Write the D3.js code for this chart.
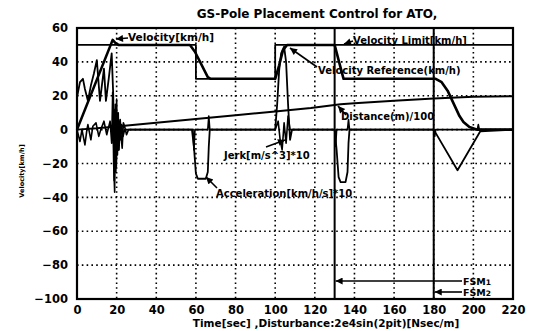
<!DOCTYPE html>
<html>
<head>
<meta charset="utf-8">
<script src="https://cdn.jsdelivr.net/npm/d3@7"></script>
<style>
body{margin:0;background:#fff;}
text{font-family:"DejaVu Sans",sans-serif;font-weight:bold;fill:#000;}
</style>
</head>
<body>
<script>
// DATA
var xTicks = [0,20,40,60,80,100,120,140,160,180,200,220];
var yTicks = [-100,-80,-60,-40,-20,0,20,40,60];

var velocity = [[0,0],[18,53],[19.5,51],[21,50],[57,50],[59.5,46],[66,31],[67.5,30],[100,30],[102,38],[104,47],[106,50],
    [130,50],[132,41],[134.5,30],[181,30],[184,28],[187,23],[189,18],[191,13],[193,8],[195,4.5],[198,1.5],[202,0],[220,0]];

var velocityLimit = [[0,50],[60,50],[60,30],[100,30],[100,50],[220,50]];

var distance = [[0,0],[10,0.8],[20,1.9],[40,4.1],[60,6.3],[80,8.5],[100,10.7],[118,12.7],[133,15],[140,15.6],
    [160,17],[180,18.4],[200,19.4],[220,19.7]];

var acceleration = [[0,19],[1.5,28],[3,30],[4,24],[5.5,17],[7,26],[8.5,33],[10,41],[11.6,17],[13.6,36],[14.6,17],[16,30],
    [17.5,45],[18.3,20],[18.8,-30],[19.3,12],[19.8,-22],[20.3,8],[20.8,-12],[21.3,5],[21.8,-6],[22.5,3],[23.2,-4],[24,0],
    [58,0],[59,-10],[60,-26],[61,-29],[65,-29],[66,-25],[66.5,-10],[67,0],
    [100,0],[101,15],[102,35],[103,45],[104.5,49],[105.5,40],[106.5,15],[107.5,-6],[108.5,0],
    [130,0],[131,-12],[132,-28],[133,-31],[135.5,-31],[136.5,-25],[137,-8],[137.5,0],
    [180,0],[192,-24],[203.5,-1],[220,0]];

var jerk = [[0,0],[1.5,-7],[2.5,0],[4,-9],[5,0],[5.5,3],[7,-6],[8,2],[9.6,4],[11,-4],[12,0],[13.6,5],[15,-3],[16.7,5],
    [17.5,-8],[18,22],[18.5,-20],[19,-37],[19.3,15],[19.6,-25],[20,18],[20.4,-15],[20.8,10],[21.2,-12],[21.8,6],[22.4,-6],
    [22.8,-11],[23.4,4],[24,2],[25,-3],[26,0],
    [58.5,0],[59,-12],[59.5,0],[66,0],[66.5,8],[67,0],
    [100,0],[101.5,5],[102.5,-6],[103.5,-12],[104.5,4],[105.5,-8],[106.5,8],[107.5,0],
    [130,0],[130.5,-10],[131,0],[136.5,0],[137,6],[137.5,0],
    [180,0],[180.5,-4],[181,0],[202,0],[202.5,3],[203,0],[220,0]];

var fsmTimes = [130,180];
var fsmNames = ["FSM","FSM"];
var fsmIndex = ["1","2"];

// LAYOUT
var width = 535, height = 331;
var plotLeft = 77, plotRight = 513, plotTop = 28, plotBottom = 299;

var svg = d3.select("body").append("svg")
    .attr("width", width).attr("height", height);

var x = d3.scaleLinear().domain([0,220]).range([plotLeft,plotRight]);
var y = d3.scaleLinear().domain([-100,60]).range([plotBottom,plotTop]);

// ARROW HEAD
svg.append("defs").append("marker")
    .attr("id","arrow")
    .attr("viewBox",[0,0,10,10])
    .attr("refX",10).attr("refY",5)
    .attr("markerWidth",9).attr("markerHeight",7)
    .attr("markerUnits","userSpaceOnUse")
    .attr("orient","auto")
  .append("path")
    .attr("d",d3.line()([[0,0],[10,5],[0,10]]))
    .attr("fill","#000");

// GRID (dotted)
svg.append("g").selectAll("line").data(xTicks.slice(1,-1)).enter().append("line")
    .attr("x1",d=>x(d)).attr("x2",d=>x(d)).attr("y1",plotTop).attr("y2",plotBottom)
    .attr("stroke","#000").attr("stroke-width",1.6).attr("stroke-dasharray","1.6,3.2");
svg.append("g").selectAll("line").data(yTicks.slice(1,-1)).enter().append("line")
    .attr("x1",plotLeft).attr("x2",plotRight).attr("y1",d=>y(d)).attr("y2",d=>y(d))
    .attr("stroke","#000").attr("stroke-width",1.6).attr("stroke-dasharray","1.6,3.2");

// AXES
var xAxis = svg.append("g").attr("transform","translate(0,"+plotBottom+")")
    .call(d3.axisBottom(x).tickValues(xTicks).tickSize(0).tickPadding(7));
var yAxis = svg.append("g").attr("transform","translate("+plotLeft+",0)")
    .call(d3.axisLeft(y).tickValues(yTicks).tickSize(0).tickPadding(9));
[xAxis,yAxis].forEach(function(a){
    a.select(".domain").remove();
    a.selectAll("text").attr("font-size",11.5).attr("font-family","DejaVu Sans").attr("font-weight","bold");
});

// SERIES
var line = d3.line().x(d=>x(d[0])).y(d=>y(d[1]));
function drawSeries(data, w){
    svg.append("path").attr("d",line(data))
        .attr("fill","none").attr("stroke","#000")
        .attr("stroke-width",w).attr("stroke-linejoin","round");
}
drawSeries(distance, 2);
drawSeries(velocityLimit, 1.8);
drawSeries(jerk, 1.6);
drawSeries(acceleration, 1.8);
drawSeries(velocity, 2.6);

// FSM MARKERS
svg.append("g").selectAll("line").data(fsmTimes).enter().append("line")
    .attr("x1",d=>x(d)).attr("x2",d=>x(d)).attr("y1",plotTop).attr("y2",plotBottom)
    .attr("stroke","#000").attr("stroke-width",2);
var fsmY = [281,292];
fsmTimes.forEach(function(t,i){
    svg.append("line").attr("x1",462).attr("x2",x(t)+1).attr("y1",fsmY[i]).attr("y2",fsmY[i])
        .attr("stroke","#000").attr("stroke-width",1.6).attr("marker-end","url(#arrow)");
    var lab = svg.append("text").attr("x",463).attr("y",fsmY[i]+3.5).attr("font-size",9.5);
    lab.append("tspan").text(fsmNames[i]);
    lab.append("tspan").attr("font-size",7.5).text(fsmIndex[i]);
});

// FRAME
svg.append("rect").attr("x",plotLeft).attr("y",plotTop).attr("width",plotRight-plotLeft).attr("height",plotBottom-plotTop)
    .attr("fill","none").attr("stroke","#000").attr("stroke-width",2.2);

// ANNOTATIONS
function note(txt, tx, ty, size, arrowFrom, arrowTo){
    svg.append("text").attr("x",tx).attr("y",ty).attr("font-size",size).text(txt);
    if(arrowFrom){
        svg.append("line").attr("x1",arrowFrom[0]).attr("y1",arrowFrom[1])
            .attr("x2",arrowTo[0]).attr("y2",arrowTo[1])
            .attr("stroke","#000").attr("stroke-width",1.6).attr("marker-end","url(#arrow)");
    }
}
note("Velocity[km/h]", 128, 41, 10.5, [128,38], [116,39]);
note("Velocity Limit[km/h]", 353, 44, 10, [353,41], [344,44]);
note("Velocity Reference(km/h)", 318, 74, 10, [317,67], [290,48]);
note("Distance(m)/100", 341, 120, 10, [346,115], [338,106]);
note("Jerk[m/s^3]*10", 224, 159, 10, [266,147], [285,140]);
note("Acceleration[km/h/s]*10", 216, 197, 10, [217,188], [206,177]);

// TITLES
svg.append("text").attr("x",317).attr("y",18).attr("text-anchor","middle").attr("font-size",12)
    .text("GS-Pole Placement Control for ATO,");
svg.append("text").attr("x",326).attr("y",327).attr("text-anchor","middle").attr("font-size",10.5)
    .text("Time[sec] ,Disturbance:2e4sin(2pit)[Nsec/m]");
svg.append("text").attr("transform","translate(24,171) rotate(-90)").attr("text-anchor","middle")
    .attr("font-size",6.5).text("Velocity[km/h]");
</script>
</body>
</html>
